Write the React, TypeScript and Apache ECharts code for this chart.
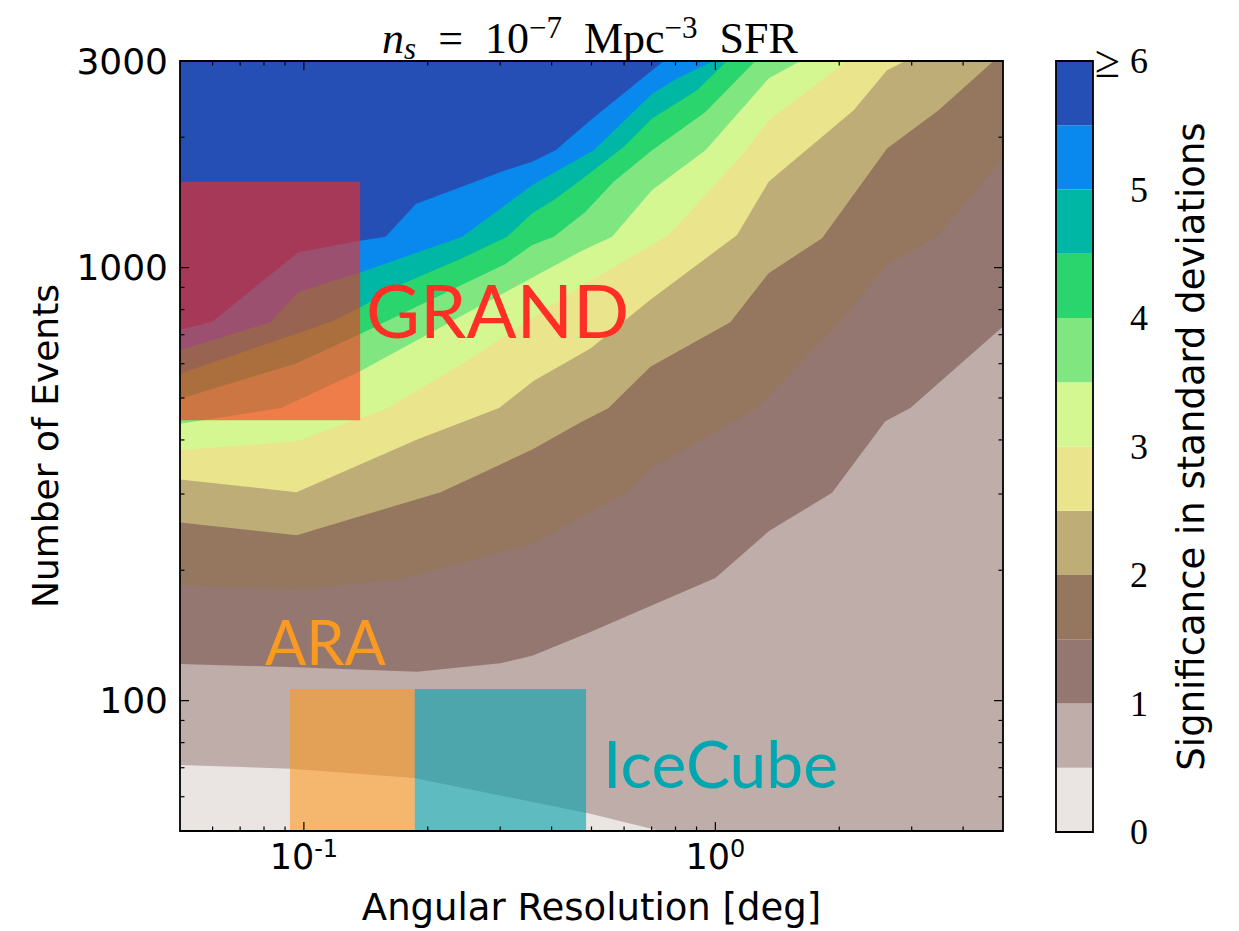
import React, { useEffect, useRef } from "react";
import * as echarts from "echarts";

// Significance levels (contour boundaries), from the top band down
const contourLevels = [5.5, 5.0, 4.5, 4.0, 3.5, 3.0, 2.5, 2.0, 1.5, 1.0, 0.5];
// Colour-bar level edges and band colours (terrain_r)
const colorbarLevels = [0, 0.5, 1, 1.5, 2, 2.5, 3, 3.5, 4, 4.5, 5, 5.5, 6];
const bandColors = [
  "#eae4e2", "#bfadaa", "#957771", "#957760", "#bfad77", "#eae48d",
  "#d5f791", "#80e680", "#2bd56e", "#00b7a6", "#0988ee", "#254fb5",
];
const colorbarTicks = [0, 1, 2, 3, 4, 5, 6];

// Contour boundaries: [angular resolution (deg), number of events]
const boundary55 = [[0.05, 719], [0.06, 751], [0.097, 1085], [0.137, 1154], [0.158, 1179], [0.187, 1402], [0.309, 1679], [0.359, 1755], [0.409, 1867], [0.497, 2189], [0.702, 2855], [0.75, 3000], [5, 3000]];
const boundary50 = [[0.05, 644], [0.083, 748], [0.097, 878], [0.137, 974], [0.2425, 1179], [0.359, 1551], [0.409, 1664], [0.506, 1867], [0.702, 2522], [0.807, 2732], [0.903, 2880], [0.99, 3000], [5, 3000]];
const boundary45 = [[0.05, 569], [0.117, 751], [0.137, 809], [0.175, 920], [0.2425, 1051], [0.312, 1179], [0.359, 1335], [0.405, 1432], [0.47, 1592], [0.599, 1900], [0.702, 2209], [0.903, 2567], [1.067, 3000], [5, 3000]];
const boundary40 = [[0.05, 498], [0.0954, 600], [0.137, 703], [0.234, 898], [0.309, 1020], [0.359, 1128], [0.405, 1179], [0.483, 1344], [0.566, 1578], [0.702, 1867], [0.946, 2288], [1.251, 3000], [5, 3000]];
const boundary35 = [[0.05, 436], [0.088, 474], [0.137, 576], [0.247, 782], [0.409, 1014], [0.47, 1089], [0.561, 1179], [0.702, 1510], [0.946, 1867], [1.347, 2732], [1.608, 3000], [5, 3000]];
const boundary30 = [[0.05, 379], [0.096, 397], [0.16, 474], [0.247, 606], [0.47, 903], [0.77, 1189], [1.171, 1834], [1.347, 2189], [2.089, 3000], [5, 3000]];
const boundary25 = [[0.05, 324], [0.096, 303], [0.1885, 401], [0.298, 474], [0.362, 548], [0.497, 650], [0.695, 843], [1.129, 1189], [1.347, 1578], [2.168, 2309], [2.612, 2855], [2.894, 3000], [5, 3000]];
const boundary20 = [[0.05, 258], [0.096, 241], [0.215, 303], [0.359, 380], [0.47, 439], [0.55, 474], [0.695, 590], [1.087, 748], [1.347, 971], [1.816, 1169], [2.612, 1884], [3.487, 2309], [4.742, 3000], [5, 3000]];
const boundary15 = [[0.05, 185], [0.096, 180], [0.172, 191], [0.359, 230], [0.47, 265], [0.61, 302], [0.695, 342], [1.263, 474], [2.012, 751], [2.612, 1014], [3.456, 1179], [5, 1787]];
const boundary10 = [[0.05, 121.5], [0.096, 119.4], [0.1885, 116.6], [0.3, 122], [0.359, 127], [0.497, 144], [0.702, 166], [1.0, 192], [1.347, 246], [1.921, 302], [2.588, 442], [2.977, 474], [5, 731]];
const boundary05 = [[0.05, 71], [0.093, 69.6], [0.185, 66.3], [0.497, 54.8], [0.735, 50], [5, 50]];

// Experiment boxes: [xMin, xMax, yMin, yMax]
const grandBox = [0.05, 0.137, 444, 1578];
const araBox = [0.0925, 0.186, 50, 106.4];
const iceCubeBox = [0.186, 0.485, 50, 106.4];
const boxColors = ["rgba(255,43,27,0.6)", "rgba(251,154,32,0.6)", "rgba(0,161,172,0.6)"];
const labelColors = ["#ff2f25", "#fb9a20", "#00a7b0"];

// Axis ticks
const xMajorTicks = [0.1, 1];
const xMinorTicks = [0.06, 0.07, 0.08, 0.09, 0.2, 0.3, 0.4, 0.5, 0.6, 0.7, 0.8, 0.9, 2, 3, 4];
const yMajorTicks = [100, 1000];
const yMinorTicks = [60, 70, 80, 90, 200, 300, 400, 500, 600, 700, 800, 900, 2000];

const SANS = "DejaVu Sans";
const SERIF = "Liberation Serif";
const LABEL_FONT = "Lato";

export default function App() {
  const ref = useRef<HTMLDivElement>(null);

  useEffect(() => {
    if (!ref.current) return;
    const chart = echarts.init(ref.current, null, { renderer: "svg" });

    const boundaries = [boundary55, boundary50, boundary45, boundary40, boundary35, boundary30, boundary25, boundary20, boundary15, boundary10, boundary05];

    const contourSeries = boundaries.map((b, i) => ({
      type: "line",
      name: "sigma " + contourLevels[i],
      xAxisIndex: 0,
      yAxisIndex: 0,
      data: b,
      symbol: "none",
      showSymbol: false,
      lineStyle: { width: 0, opacity: 0 },
      areaStyle: {
        color: bandColors[Math.round(contourLevels[i] * 2) - 1],
        opacity: 1,
        origin: "start",
      },
      silent: true,
      clip: true,
      z: 2,
    }));

    const tickData = [
      ...xMajorTicks.map((v) => [v, 100, 0, 1]),
      ...xMinorTicks.map((v) => [v, 100, 0, 0]),
      ...yMajorTicks.map((v) => [1, v, 1, 1]),
      ...yMinorTicks.map((v) => [1, v, 1, 0]),
    ];

    const colorbarSeries = bandColors.map((c, i) => ({
      type: "bar",
      xAxisIndex: 1,
      yAxisIndex: 1,
      stack: "cb",
      data: [colorbarLevels[i + 1] - colorbarLevels[i]],
      barWidth: "100%",
      itemStyle: { color: c },
      silent: true,
      z: 2,
    }));

    const frameRender = (params: any) => {
      const cs = params.coordSys;
      return {
        type: "rect",
        shape: { x: cs.x, y: cs.y, width: cs.width, height: cs.height },
        style: { fill: "none", stroke: "#000", lineWidth: 1.8 },
      };
    };

    const option: any = {
      animation: false,
      backgroundColor: "#ffffff",
      textStyle: { fontFamily: SANS },
      grid: [
        { left: 180, top: 61, width: 823, height: 771, show: true, backgroundColor: bandColors[11], borderWidth: 0 },
        { left: 1056, top: 61, width: 37, height: 771, show: false },
      ],
      xAxis: [
        {
          type: "log",
          gridIndex: 0,
          logBase: 10,
          min: 0.05,
          max: 5,
          axisLine: { show: false },
          axisTick: { show: false },
          splitLine: { show: false },
          axisLabel: {
            margin: 6,
            showMinLabel: false,
            showMaxLabel: false,
            formatter: (v: number) => `{b|10}{s|${Math.round(Math.log10(v)) < 0 ? "-" : ""}${Math.abs(Math.round(Math.log10(v)))}}`,
            rich: {
              b: { fontFamily: SANS, fontSize: 35, lineHeight: 40, color: "#000" },
              s: { fontFamily: SANS, fontSize: 24, lineHeight: 22, verticalAlign: "top", color: "#000" },
            },
          },
          name: "Angular Resolution [deg]",
          nameLocation: "middle",
          nameGap: 58,
          nameTextStyle: { fontFamily: SANS, fontSize: 37, color: "#000" },
        },
        {
          type: "category",
          gridIndex: 1,
          data: ["σ"],
          show: false,
        },
      ],
      yAxis: [
        {
          type: "log",
          gridIndex: 0,
          logBase: 10,
          min: 50,
          max: 3000,
          axisLine: { show: false },
          axisTick: { show: false },
          splitLine: { show: false },
          axisLabel: {
            margin: 12,
            showMinLabel: false,
            showMaxLabel: true,
            fontFamily: SANS,
            fontSize: 36,
            color: "#000",
            formatter: (v: number) => String(Math.round(v)),
          },
          name: "Number of Events",
          nameLocation: "middle",
          nameRotate: 90,
          nameGap: 117,
          nameTextStyle: { fontFamily: SANS, fontSize: 36, color: "#000" },
        },
        {
          type: "value",
          gridIndex: 1,
          position: "right",
          min: 0,
          max: 6,
          interval: 1,
          axisLine: { show: false },
          axisTick: { show: false },
          splitLine: { show: false },
          axisLabel: {
            margin: 55,
            align: "right",
            fontFamily: SERIF,
            fontSize: 36,
            color: "#000",
            formatter: (v: number) => (colorbarTicks.indexOf(v) === colorbarTicks.length - 1 ? "{ge|≥}" + v : String(v)),
            rich: {
              ge: { fontFamily: SERIF, fontSize: 46, color: "#000", padding: [0, 10, 0, 0] },
            },
          },
          name: "Significance in standard deviations",
          nameLocation: "middle",
          nameRotate: 90,
          nameGap: 80,
          nameTextStyle: { fontFamily: SANS, fontSize: 37, color: "#000" },
        },
      ],
      series: [
        ...contourSeries,
        {
          type: "custom",
          name: "experiments",
          xAxisIndex: 0,
          yAxisIndex: 0,
          silent: true,
          z: 4,
          data: [grandBox, araBox, iceCubeBox].map((b, i) => [...b, i]),
          encode: { x: [0, 1], y: [2, 3] },
          renderItem: (params: any, api: any) => {
            const p0 = api.coord([api.value(0), api.value(3)]);
            const p1 = api.coord([api.value(1), api.value(2)]);
            const cs = params.coordSys;
            const shape = echarts.graphic.clipRectByRect(
              { x: p0[0], y: p0[1], width: p1[0] - p0[0], height: p1[1] - p0[1] },
              { x: cs.x, y: cs.y, width: cs.width, height: cs.height }
            );
            if (!shape) return null;
            return { type: "rect", shape, style: { fill: boxColors[api.value(4)] } };
          },
        },
        {
          type: "custom",
          name: "ticks",
          xAxisIndex: 0,
          yAxisIndex: 0,
          silent: true,
          z: 6,
          data: tickData,
          encode: { x: 0, y: 1 },
          renderItem: (params: any, api: any) => {
            const cs = params.coordSys;
            const isY = api.value(2) === 1;
            const len = api.value(3) === 1 ? 9 : 4.5;
            const p = api.coord([api.value(0), api.value(1)]);
            const st = { stroke: "#000", lineWidth: 1.2 };
            if (!isY) {
              const x = p[0];
              return {
                type: "group",
                children: [
                  { type: "line", shape: { x1: x, y1: cs.y + cs.height, x2: x, y2: cs.y + cs.height - len }, style: st },
                  { type: "line", shape: { x1: x, y1: cs.y, x2: x, y2: cs.y + len }, style: st },
                ],
              };
            }
            const y = p[1];
            return {
              type: "group",
              children: [
                { type: "line", shape: { x1: cs.x, y1: y, x2: cs.x + len, y2: y }, style: st },
                { type: "line", shape: { x1: cs.x + cs.width, y1: y, x2: cs.x + cs.width - len, y2: y }, style: st },
              ],
            };
          },
        },
        {
          type: "custom",
          name: "frame",
          xAxisIndex: 0,
          yAxisIndex: 0,
          silent: true,
          z: 7,
          data: [[1, 100]],
          renderItem: frameRender,
        },
        ...colorbarSeries,
        {
          type: "custom",
          name: "cbframe",
          xAxisIndex: 1,
          yAxisIndex: 1,
          silent: true,
          z: 7,
          data: [[0, 3]],
          renderItem: frameRender,
        },
      ],
      graphic: [
        {
          type: "text",
          z: 100,
          x: 590,
          y: 38,
          silent: true,
          style: {
            text: "{i|n}{sub|s}{r|  =  10}{sup|−7}{r|  Mpc}{sup|−3}{r|  SFR}",
            align: "center",
            verticalAlign: "middle",
            rich: {
              i: { fontFamily: SERIF, fontStyle: "italic", fontSize: 44, lineHeight: 52, fill: "#000" },
              r: { fontFamily: SERIF, fontSize: 44, lineHeight: 52, fill: "#000" },
              sup: { fontFamily: SERIF, fontSize: 31, lineHeight: 31, verticalAlign: "top", fill: "#000" },
              sub: { fontFamily: SERIF, fontStyle: "italic", fontSize: 31, lineHeight: 31, verticalAlign: "bottom", fill: "#000" },
            },
          },
        },
        {
          type: "text",
          z: 100,
          x: 366,
          y: 309,
          silent: true,
          style: { text: "GRAND", fontFamily: LABEL_FONT, fontSize: 74, fill: labelColors[0], verticalAlign: "middle", align: "left" },
        },
        {
          type: "text",
          z: 100,
          x: 265,
          y: 641,
          silent: true,
          style: { text: "ARA", fontFamily: LABEL_FONT, fontSize: 61, fill: labelColors[1], verticalAlign: "middle", align: "left" },
        },
        {
          type: "text",
          z: 100,
          x: 603,
          y: 762,
          silent: true,
          style: { text: "IceCube", fontFamily: LABEL_FONT, fontSize: 66, fill: labelColors[2], verticalAlign: "middle", align: "left" },
        },
      ],
    };

    chart.setOption(option);
    return () => chart.dispose();
  }, []);

  return <div ref={ref} style={{ position: "absolute", left: 0, top: 0, width: 1239, height: 931 }} />;
}
